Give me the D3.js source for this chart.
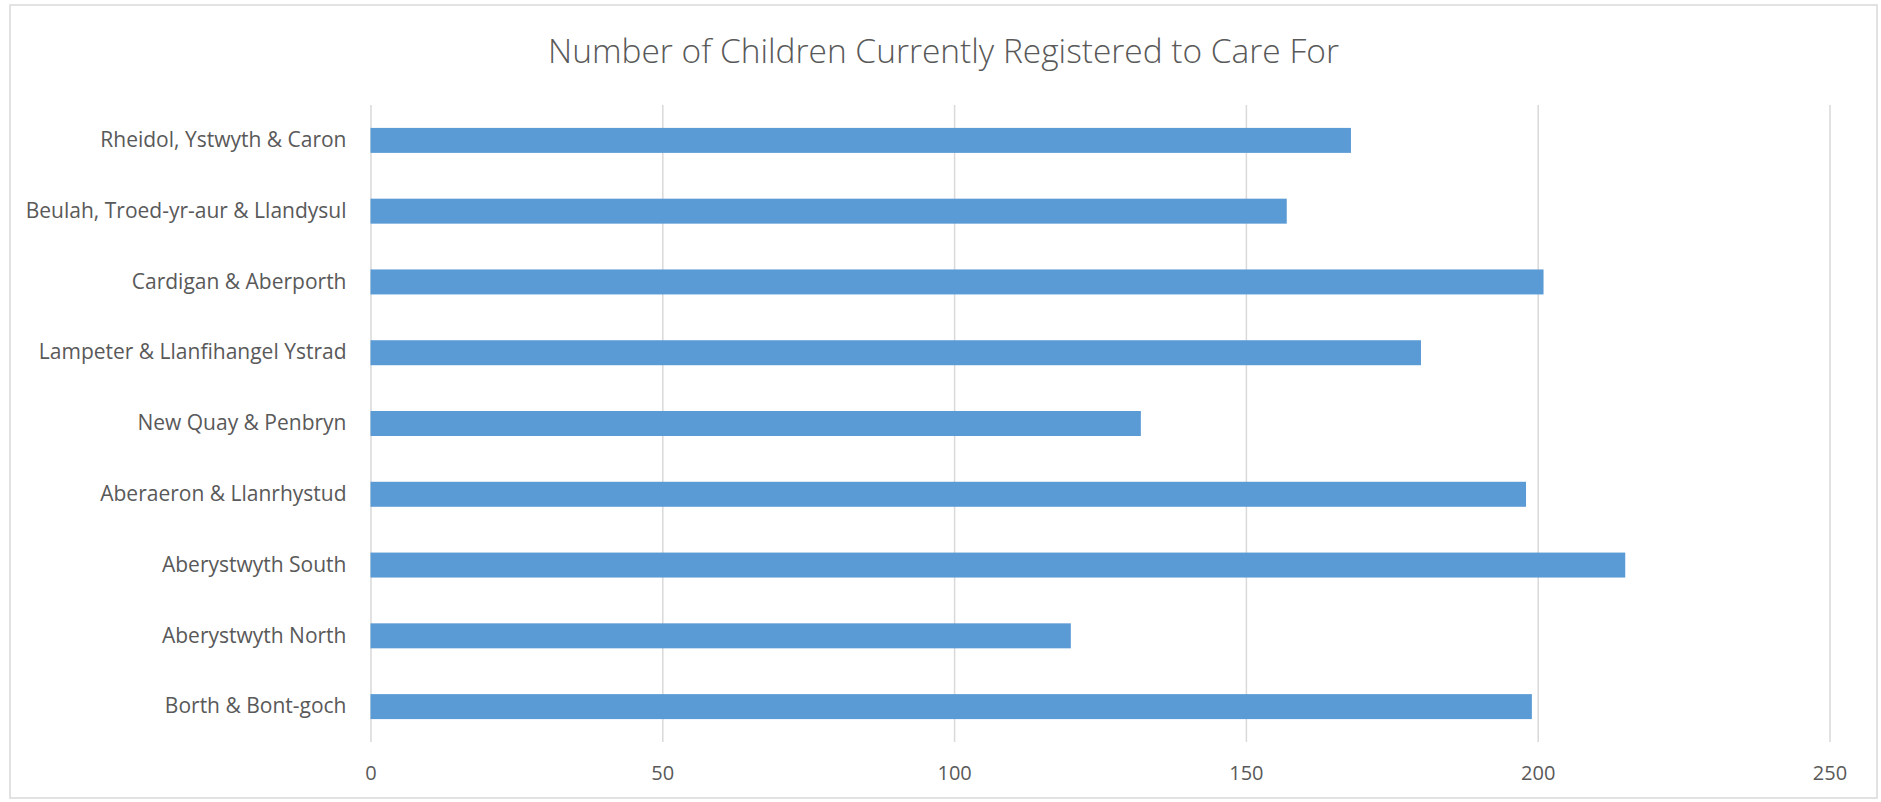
<!DOCTYPE html>
<html>
<head>
<meta charset="utf-8">
<script src="https://cdn.jsdelivr.net/npm/d3@7"></script>
<style>
  html, body { margin: 0; padding: 0; background: #ffffff; }
  svg { display: block; }
</style>
</head>
<body>
<svg id="chart" width="1881" height="802"></svg>
<script>
const title = "Number of Children Currently Registered to Care For";
const categories = [
  "Rheidol, Ystwyth & Caron",
  "Beulah, Troed-yr-aur & Llandysul",
  "Cardigan & Aberporth",
  "Lampeter & Llanfihangel Ystrad",
  "New Quay & Penbryn",
  "Aberaeron & Llanrhystud",
  "Aberystwyth South",
  "Aberystwyth North",
  "Borth & Bont-goch"
];
const values = [168, 157, 201, 180, 132, 198, 215, 120, 199];
const xTicks = [0, 50, 100, 150, 200, 250];

const svg = d3.select("#chart");
const plot = { left: 370.5, right: 1829.5, top: 105, bottom: 742 };
const textColor = "#595959";
const font = "'Open Sans', 'Liberation Sans', sans-serif";

// outer border
svg.append("rect")
  .attr("x", 10).attr("y", 5)
  .attr("width", 1867).attr("height", 793)
  .attr("fill", "#ffffff")
  .attr("stroke", "#d9d9d9").attr("stroke-width", 1.5);

const x = d3.scaleLinear().domain([0, 250]).range([plot.left, plot.right]);
const y = d3.scaleBand().domain(categories).range([plot.top, plot.bottom])
  .paddingInner(0.647).paddingOuter(0.3235);

// x axis with gridlines
const xAxis = svg.append("g")
  .attr("transform", `translate(0,${plot.bottom})`)
  .call(d3.axisBottom(x).tickValues(xTicks)
    .tickSize(-(plot.bottom - plot.top)).tickPadding(24));
xAxis.select(".domain").remove();
xAxis.selectAll(".tick line").attr("stroke", "#d9d9d9").attr("stroke-width", 1.5);
xAxis.selectAll(".tick text")
  .attr("fill", textColor).style("font-family", font).style("font-size", "20px");

// bars
svg.append("g").selectAll("rect")
  .data(categories)
  .join("rect")
  .attr("x", x(0))
  .attr("y", d => y(d))
  .attr("width", (d, i) => x(values[i]) - x(0))
  .attr("height", y.bandwidth())
  .attr("fill", "#5b9bd5");

// y axis labels
const yAxis = svg.append("g")
  .attr("transform", `translate(${plot.left},0)`)
  .call(d3.axisLeft(y).tickSize(0).tickPadding(24));
yAxis.select(".domain").remove();
yAxis.selectAll(".tick text")
  .attr("fill", textColor).style("font-family", font).style("font-size", "21px");

// title
const t = svg.append("text")
  .attr("x", (10 + 1877) / 2).attr("y", 50)
  .attr("text-anchor", "middle").attr("dominant-baseline", "central")
  .attr("fill", textColor)
  .style("font-family", font).style("font-weight", 300).style("font-size", "30px")
  .text(title);
const tw = t.node().getComputedTextLength();
t.style("font-size", (30 * 791 / tw) + "px");
</script>
</body>
</html>
